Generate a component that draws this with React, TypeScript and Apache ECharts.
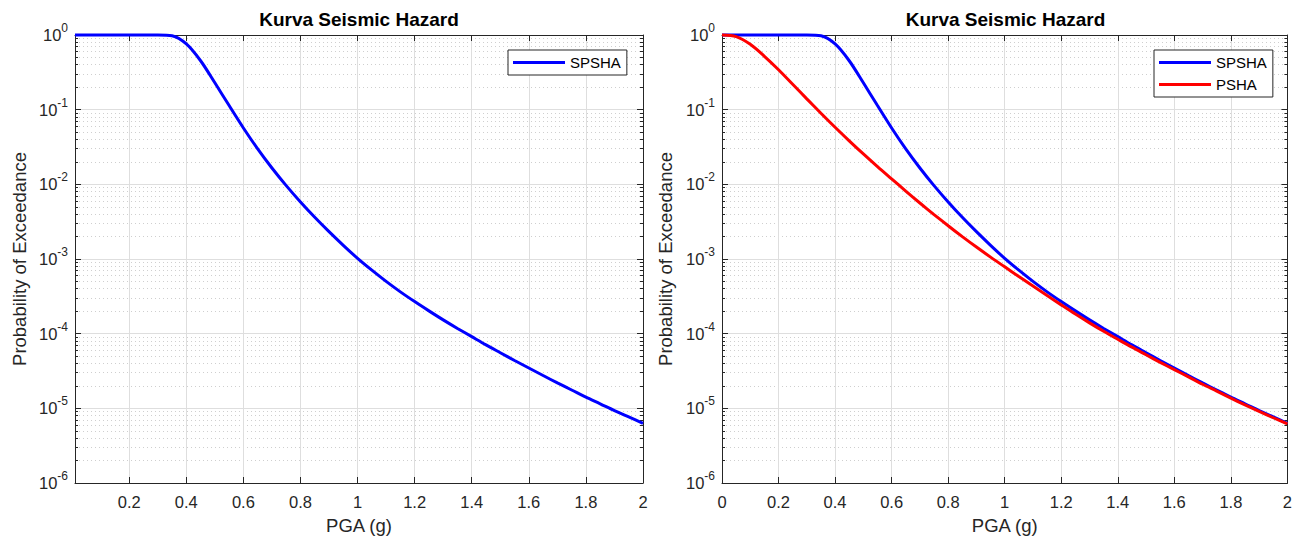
import React, { useEffect, useRef } from 'react';
import * as echarts from 'echarts';

// ---- data ----
const PGA = [0, 0.01, 0.05, 0.1, 0.15, 0.2, 0.25, 0.3, 0.35, 0.4, 0.45, 0.5, 0.55, 0.6, 0.65, 0.7, 0.75, 0.8, 0.85, 0.9, 0.95, 1.0,
  1.05, 1.1, 1.15, 1.2, 1.25, 1.3, 1.35, 1.4, 1.45, 1.5, 1.55, 1.6, 1.65, 1.7, 1.75, 1.8, 1.85, 1.9, 1.95, 2.0];
const SPSHA = [1, 1, 1, 1, 1, 1, 1, 1, 0.977, 0.759, 0.452, 0.229, 0.1135, 0.0569, 0.02985, 0.01656, 0.009616, 0.005808, 0.003622, 0.002323, 0.001524, 0.00102,
  7.08e-4, 5.01e-4, 3.63e-4, 2.69e-4, 2.02e-4, 1.53e-4, 1.175e-4, 9.12e-5, 7.08e-5, 5.56e-5, 4.37e-5, 3.47e-5, 2.75e-5, 2.19e-5, 1.76e-5, 1.41e-5, 1.15e-5, 9.33e-6, 7.67e-6, 6.31e-6];
const PSHA = [1, 0.999, 0.9506, 0.7499, 0.5188, 0.3428, 0.2188, 0.1396, 0.0897, 0.0582, 0.0383, 0.02553, 0.01726, 0.01183, 0.008128, 0.005623, 0.003936, 0.002786, 0.001995, 0.001445, 0.001059, 7.85e-4,
  5.82e-4, 4.34e-4, 3.24e-4, 2.43e-4, 1.83e-4, 1.396e-4, 1.076e-4, 8.41e-5, 6.59e-5, 5.22e-5, 4.13e-5, 3.30e-5, 2.64e-5, 2.10e-5, 1.70e-5, 1.37e-5, 1.11e-5, 9.08e-6, 7.48e-6, 6.17e-6];
const X_TICKS = [0, 0.2, 0.4, 0.6, 0.8, 1, 1.2, 1.4, 1.6, 1.8, 2];
const LEFT_X_MIN = 0.01;
const TITLE = 'Kurva Seismic Hazard';
const X_NAME = 'PGA (g)';
const Y_NAME = 'Probability of Exceedance';

const FONT = '"Liberation Sans", Arial, Helvetica, sans-serif';
const AX = '#262626';

const grids = [
  { left: 75, top: 35, width: 568, height: 448 },
  { left: 722, top: 35, width: 567, height: 448 },
];

function xAxisDef(gridIndex: number, min: number, ticks: number[], position: string, main: boolean) {
  return {
    type: 'value', gridIndex, min, max: 2, position,
    axisLine: { show: true, onZero: false, lineStyle: { color: AX, width: 1 } },
    axisTick: { show: true, inside: true, length: 6, customValues: ticks, lineStyle: { color: AX, width: 1 } },
    axisLabel: { show: main, customValues: ticks, margin: 10, color: AX, fontSize: 16.5, fontFamily: FONT },
    splitLine: { show: main, lineStyle: { color: '#dedede', width: 1 } },
    name: main ? X_NAME : '',
    nameLocation: 'middle', nameGap: 33,
    nameTextStyle: { color: AX, fontSize: 18.5, fontFamily: FONT },
  };
}

function yAxisDef(gridIndex: number, position: string, main: boolean, gap: number) {
  return {
    type: 'log', logBase: 10, gridIndex, min: 1e-6, max: 1, interval: 1, position,
    axisLine: { show: true, onZero: false, lineStyle: { color: AX, width: 1 } },
    axisTick: { show: true, inside: true, length: 6, lineStyle: { color: AX, width: 1 } },
    minorTick: { show: true, splitNumber: 9, length: 3, lineStyle: { color: AX, width: 1 } },
    axisLabel: {
      show: main, margin: 7, color: AX, fontFamily: FONT,
      formatter: (v: number) => `{b|10}{s|${Math.round(Math.log10(v))}}`,
      rich: {
        b: { fontSize: 16.5, lineHeight: 26, color: AX, fontFamily: FONT, verticalAlign: 'middle' },
        s: { fontSize: 12, lineHeight: 12, color: AX, fontFamily: FONT, verticalAlign: 'top' },
      },
    },
    splitLine: { show: main, lineStyle: { color: '#dedede', width: 1 } },
    minorSplitLine: { show: main, lineStyle: { color: '#cfcfcf', width: 1, type: [1, 3] } },
    name: main ? Y_NAME : '',
    nameLocation: 'middle', nameGap: gap,
    nameTextStyle: { color: AX, fontSize: 18.5, fontFamily: FONT },
  };
}

function legendDef(names: string[], left: number) {
  return {
    data: names, left, top: 50, orient: 'vertical', icon: 'rect',
    itemWidth: 52, itemHeight: 3, itemGap: 7, padding: [5, 6, 5, 5],
    borderColor: AX, borderWidth: 1, backgroundColor: '#fff', selectedMode: false,
    textStyle: { color: '#000', fontSize: 15, fontFamily: FONT },
  };
}

function titleDef(center: number) {
  return {
    text: TITLE, left: center, top: 10, padding: 0, textAlign: 'center',
    textStyle: { fontSize: 19, fontWeight: 'bold', color: '#000', fontFamily: FONT },
  };
}

export default function App() {
  const ref = useRef<HTMLDivElement>(null);
  useEffect(() => {
    const chart = echarts.init(ref.current!, undefined, { renderer: 'svg' });
    const allSP = PGA.map((x, i) => [x, SPSHA[i]]);
    const allP = PGA.map((x, i) => [x, PSHA[i]]);
    const leftSP = allSP.filter((p) => p[0] >= LEFT_X_MIN);
    const rightSP = allSP.filter((p) => p[0] !== LEFT_X_MIN);
    const rightP = allP.filter((p) => p[0] !== LEFT_X_MIN);
    const lineCommon = { type: 'line', symbol: 'none', smooth: 0.3, clip: false };
    const option: any = {
      animation: false,
      backgroundColor: '#fff',
      title: [titleDef(359), titleDef(1005.5)],
      grid: grids.map((g) => ({ ...g, containLabel: false })),
      xAxis: [
        xAxisDef(0, LEFT_X_MIN, X_TICKS.slice(1), 'bottom', true),
        xAxisDef(0, LEFT_X_MIN, X_TICKS.slice(1), 'top', false),
        xAxisDef(1, 0, X_TICKS, 'bottom', true),
        xAxisDef(1, 0, X_TICKS, 'top', false),
      ],
      yAxis: [
        yAxisDef(0, 'left', true, 46),
        yAxisDef(0, 'right', false, 0),
        yAxisDef(1, 'left', true, 47),
        yAxisDef(1, 'right', false, 0),
      ],
      legend: [legendDef(['SPSHA'], 508), legendDef(['SPSHA', 'PSHA'], 1154)],
      series: [
        { ...lineCommon, name: 'SPSHA', xAxisIndex: 0, yAxisIndex: 0, data: leftSP, color: '#0000ff', lineStyle: { color: '#0000ff', width: 3 } },
        { ...lineCommon, name: 'SPSHA', xAxisIndex: 2, yAxisIndex: 2, data: rightSP, color: '#0000ff', lineStyle: { color: '#0000ff', width: 3 } },
        { ...lineCommon, name: 'PSHA', xAxisIndex: 2, yAxisIndex: 2, data: rightP, color: '#ff0000', lineStyle: { color: '#ff0000', width: 3 } },
      ],
    };
    chart.setOption(option);
    return () => chart.dispose();
  }, []);
  return <div ref={ref} style={{ position: 'fixed', left: 0, top: 0, width: 1295, height: 541, background: '#fff' }} />;
}
